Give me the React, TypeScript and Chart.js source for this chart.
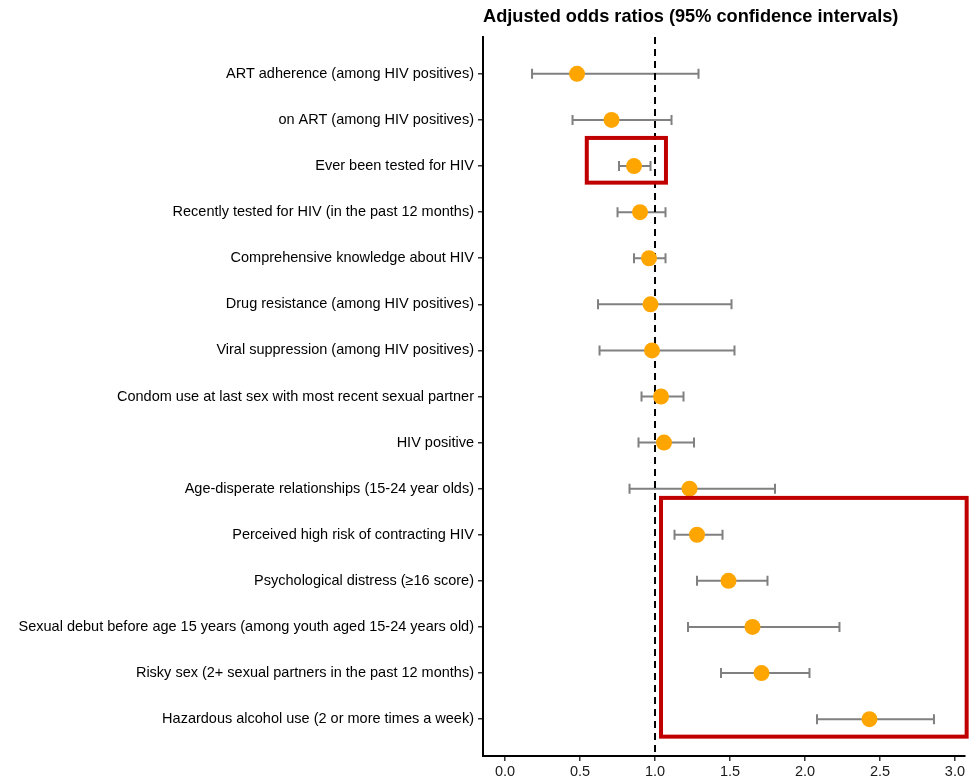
import React, { useEffect, useRef } from "react";
import { Chart, registerables } from "chart.js";

Chart.register(...registerables);

const categories = [
  "ART adherence (among HIV positives)",
  "on ART (among HIV positives)",
  "Ever been tested for HIV",
  "Recently tested for HIV (in the past 12 months)",
  "Comprehensive knowledge about HIV",
  "Drug resistance (among HIV positives)",
  "Viral suppression (among HIV positives)",
  "Condom use at last sex with most recent sexual partner",
  "HIV positive",
  "Age-disperate relationships (15-24 year olds)",
  "Perceived high risk of contracting HIV",
  "Psychological distress (≥16 score)",
  "Sexual debut before age 15 years (among youth aged 15-24 years old)",
  "Risky sex (2+ sexual partners in the past 12 months)",
  "Hazardous alcohol use (2 or more times a week)",
];

const estimates = [0.48, 0.71, 0.86, 0.9, 0.96, 0.97, 0.98, 1.04, 1.06, 1.23, 1.28, 1.49, 1.65, 1.71, 2.43];
const lowerCI = [0.18, 0.45, 0.76, 0.75, 0.86, 0.62, 0.63, 0.91, 0.89, 0.83, 1.13, 1.28, 1.22, 1.44, 2.08];
const upperCI = [1.29, 1.11, 0.97, 1.07, 1.07, 1.51, 1.53, 1.19, 1.26, 1.8, 1.45, 1.75, 2.23, 2.03, 2.86];

const xTicks = [0, 0.5, 1, 1.5, 2, 2.5, 3];
const referenceValue = 1;

// highlight rectangles in data units (x: odds ratio, y: row index)
const highlightXMin = [0.545, 1.04];
const highlightXMax = [1.073, 3.078];
const highlightYMin = [2.39, 10.2];
const highlightYMax = [3.36, 15.38];

const TITLE = "Adjusted odds ratios (95% confidence intervals)";

const forestPlugin = {
  id: "forest",
  beforeDatasetsDraw(chart: any) {
    const { ctx, scales, chartArea } = chart;
    const xs = scales.x;
    const ys = scales.y;
    ctx.save();
    ctx.strokeStyle = "#808080";
    ctx.lineWidth = 2;
    for (let i = 0; i < estimates.length; i++) {
      const y = ys.getPixelForValue(i + 1);
      const x1 = xs.getPixelForValue(lowerCI[i]);
      const x2 = xs.getPixelForValue(upperCI[i]);
      ctx.beginPath();
      ctx.moveTo(x1, y);
      ctx.lineTo(x2, y);
      ctx.moveTo(x1, y - 5);
      ctx.lineTo(x1, y + 5);
      ctx.moveTo(x2, y - 5);
      ctx.lineTo(x2, y + 5);
      ctx.stroke();
    }
    const rx = xs.getPixelForValue(referenceValue);
    ctx.strokeStyle = "#000";
    ctx.lineWidth = 2;
    ctx.setLineDash([7, 5]);
    ctx.beginPath();
    ctx.moveTo(rx, chartArea.top);
    ctx.lineTo(rx, chartArea.bottom);
    ctx.stroke();
    ctx.restore();
  },
  afterDatasetsDraw(chart: any) {
    const { ctx, scales } = chart;
    const xs = scales.x;
    const ys = scales.y;
    ctx.save();
    ctx.strokeStyle = "#C00000";
    ctx.lineWidth = 4;
    for (let i = 0; i < highlightXMin.length; i++) {
      const x1 = xs.getPixelForValue(highlightXMin[i]);
      const x2 = xs.getPixelForValue(highlightXMax[i]);
      const y1 = ys.getPixelForValue(highlightYMin[i]);
      const y2 = ys.getPixelForValue(highlightYMax[i]);
      ctx.strokeRect(x1, y1, x2 - x1, y2 - y1);
    }
    ctx.restore();
  },
  afterDraw(chart: any) {
    const { ctx, chartArea } = chart;
    ctx.save();
    ctx.fillStyle = "#000";
    ctx.font = "bold 18.2px 'Liberation Sans', Arial, sans-serif";
    ctx.textAlign = "left";
    ctx.textBaseline = "alphabetic";
    ctx.fillText(TITLE, chartArea.left, 22);
    ctx.restore();
  },
};

export default function App() {
  const ref = useRef<HTMLCanvasElement>(null);
  useEffect(() => {
    if (!ref.current) return;
    const font = { family: "'Liberation Sans', Arial, sans-serif", size: 14.5 };
    const chart = new Chart(ref.current, {
      type: "scatter",
      data: {
        datasets: [
          {
            data: estimates.map((v, i) => ({ x: v, y: i + 1 })),
            backgroundColor: "#FFA500",
            borderWidth: 0,
            pointRadius: 8,
            pointHoverRadius: 8,
          },
        ],
      },
      options: {
        responsive: false,
        animation: false,
        layout: { padding: { top: 37, right: 2, left: 0, bottom: 0 } },
        plugins: { legend: { display: false }, tooltip: { enabled: false }, title: { display: false } },
        scales: {
          x: {
            type: "linear",
            min: -0.147,
            max: 3.067,
            afterBuildTicks: (scale: any) => {
              scale.ticks = xTicks.map((v) => ({ value: v }));
            },
            afterFit: (scale: any) => {
              scale.height = 27;
            },
            ticks: {
              color: "#1a1a1a",
              font,
              padding: 2,
              maxRotation: 0,
              autoSkip: false,
              callback: (v: any) => Number(v).toFixed(1),
            },
            grid: { drawOnChartArea: false, drawTicks: true, tickLength: 5, color: "#333", lineWidth: 1.5 },
            border: { display: true, color: "#000", width: 2 },
          },
          y: {
            type: "linear",
            reverse: true,
            min: 0.2,
            max: 15.8,
            afterBuildTicks: (scale: any) => {
              scale.ticks = categories.map((_, i) => ({ value: i + 1 }));
            },
            afterFit: (scale: any) => {
              scale.width = 483;
            },
            ticks: {
              color: "#000",
              font,
              padding: 4,
              autoSkip: false,
              callback: (v: any) => categories[Math.round(Number(v)) - 1] ?? "",
            },
            grid: { drawOnChartArea: false, drawTicks: true, tickLength: 5, color: "#333", lineWidth: 1.5 },
            border: { display: true, color: "#000", width: 2 },
          },
        },
      },
      plugins: [forestPlugin],
    });
    return () => chart.destroy();
  }, []);
  return (
    <div style={{ position: "absolute", left: 0, top: 0, width: 973, height: 783, background: "#fff" }}>
      <canvas ref={ref} width={973} height={783} />
    </div>
  );
}
